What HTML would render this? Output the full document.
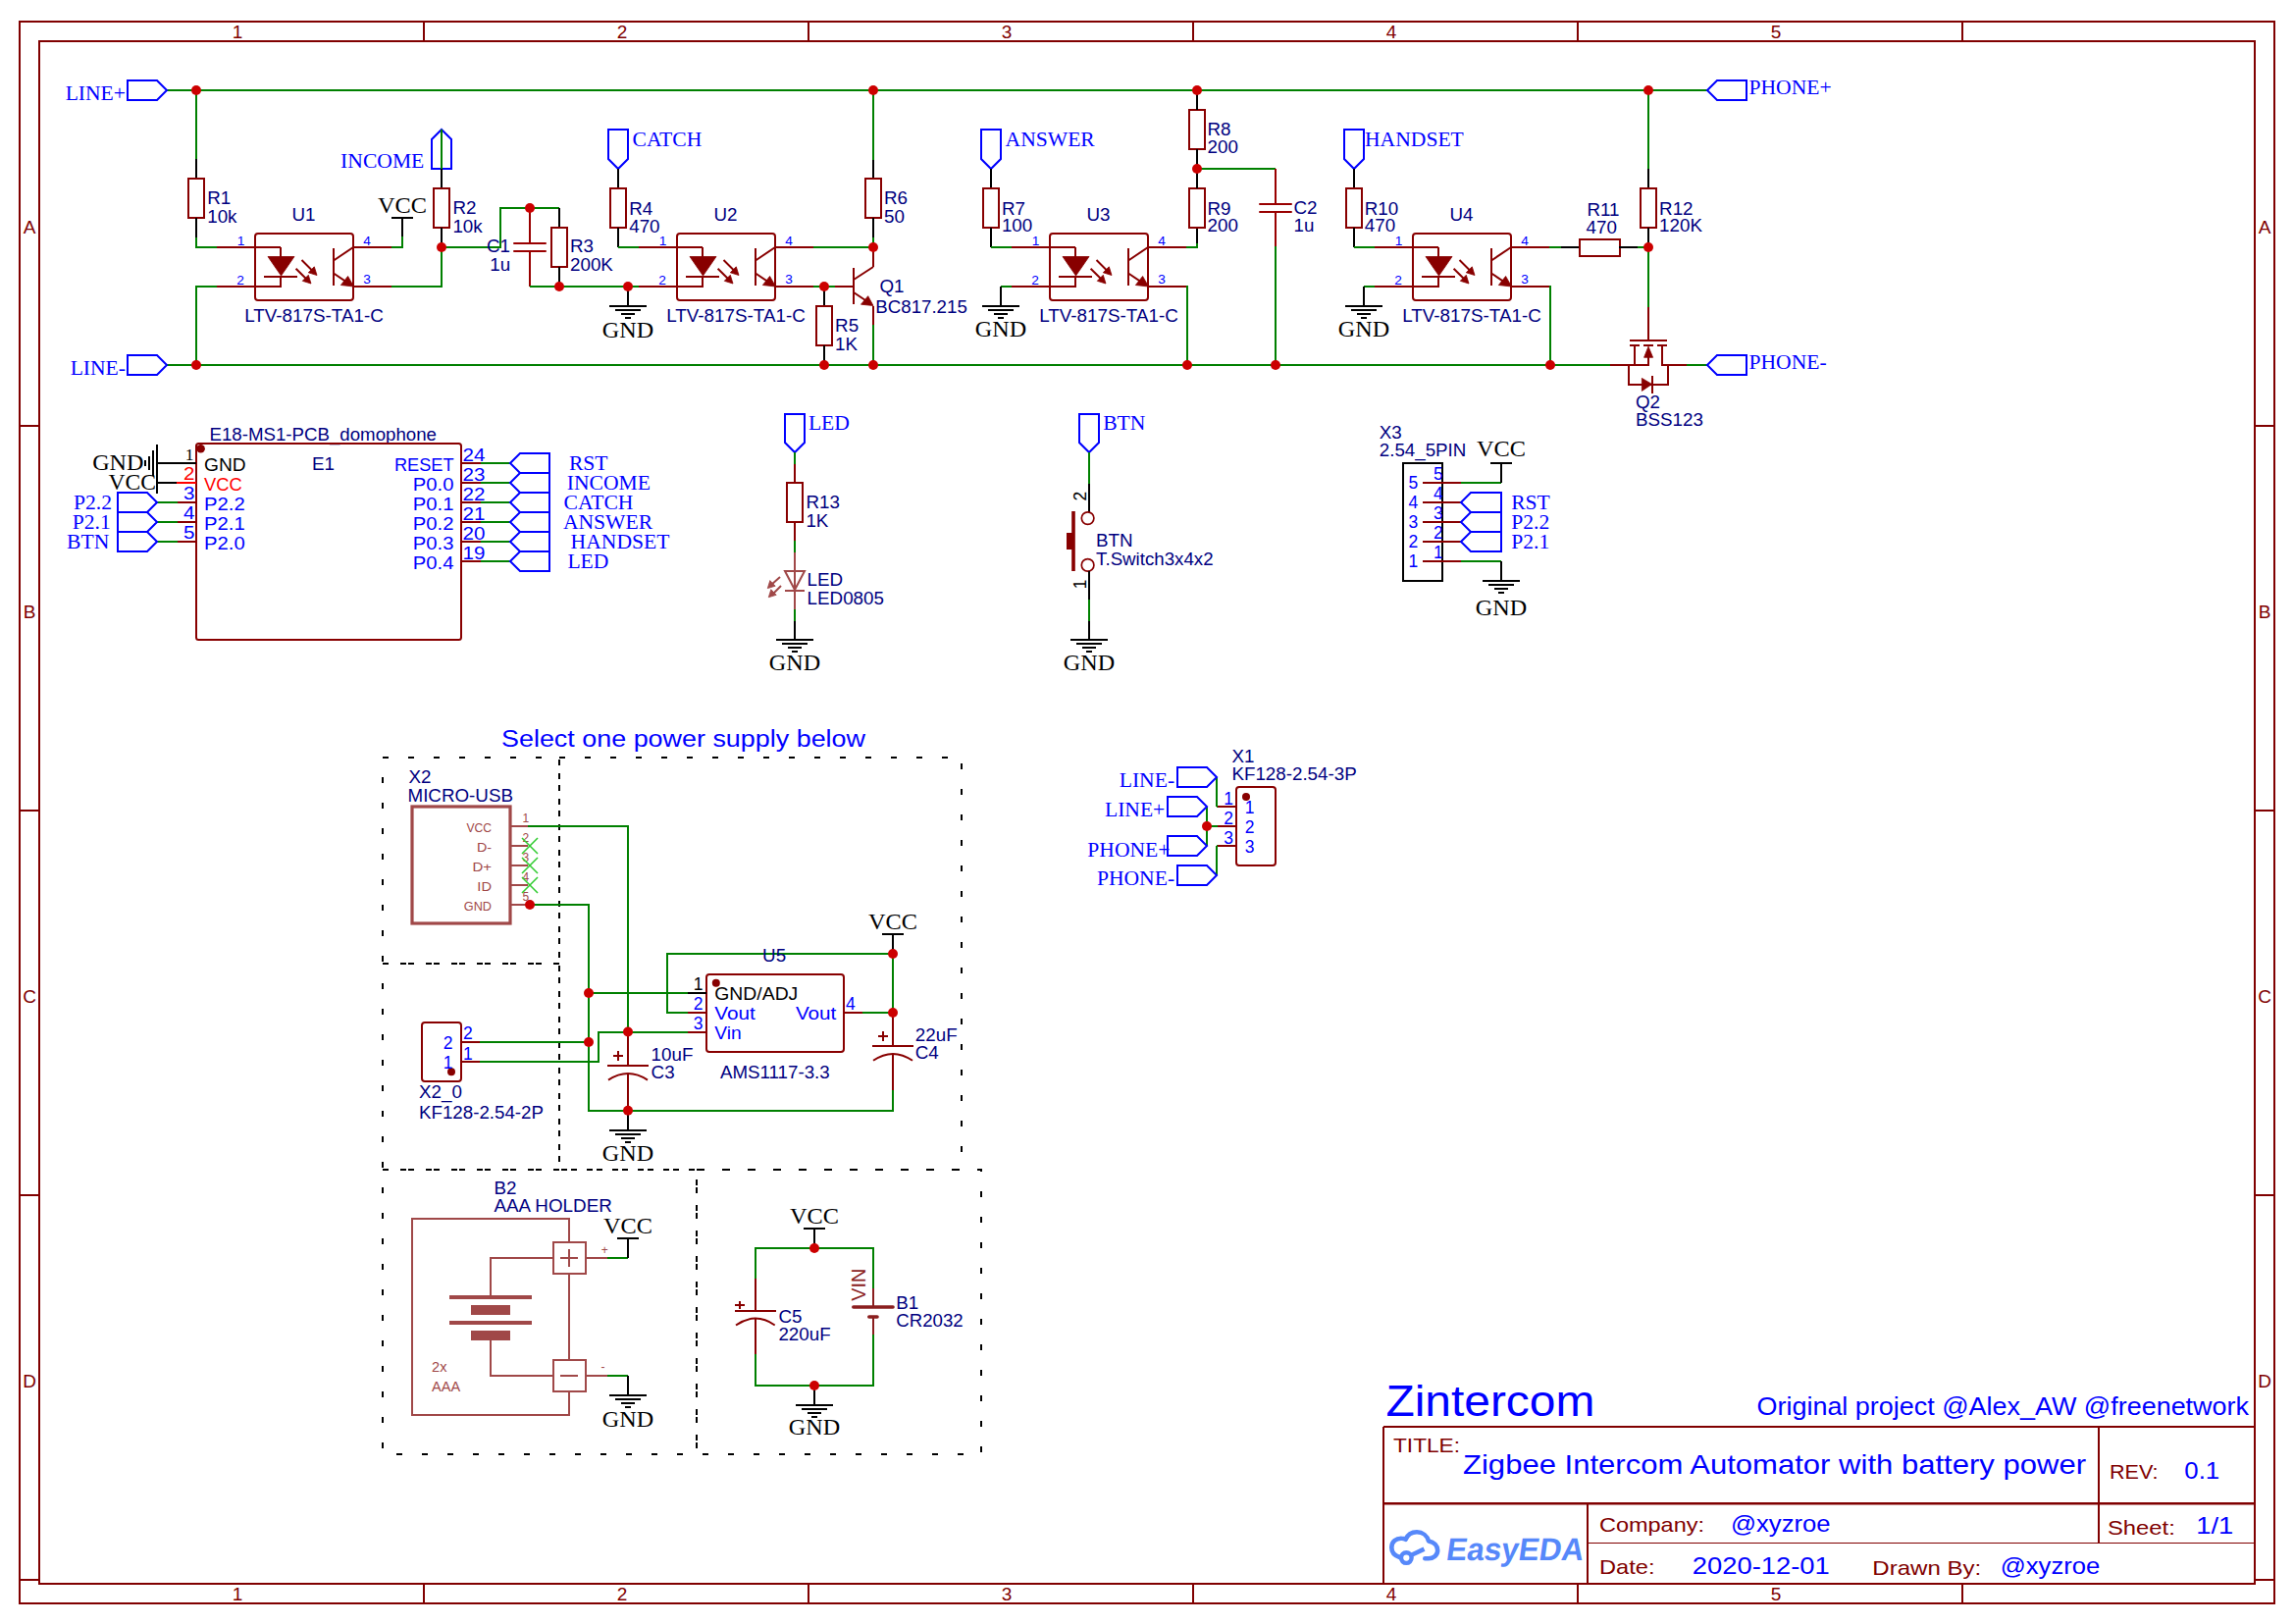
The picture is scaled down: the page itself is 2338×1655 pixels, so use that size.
<!DOCTYPE html>
<html><head><meta charset="utf-8"><title>Zintercom schematic</title>
<style>html,body{margin:0;padding:0;background:#fff;}svg{display:block;}</style></head>
<body><svg width="2338" height="1655" viewBox="0 0 2338 1655" shape-rendering="geometricPrecision">
<rect x="0" y="0" width="2338" height="1655" fill="#FFFFFF"/>
<rect x="20" y="22" width="2298" height="1612" stroke="#800000" stroke-width="2" fill="none"/>
<rect x="40" y="42" width="2258" height="1572" stroke="#800000" stroke-width="2" fill="none"/>
<line x1="432" y1="22" x2="432" y2="42" stroke="#800000" stroke-width="2"/>
<line x1="432" y1="1614" x2="432" y2="1634" stroke="#800000" stroke-width="2"/>
<line x1="824" y1="22" x2="824" y2="42" stroke="#800000" stroke-width="2"/>
<line x1="824" y1="1614" x2="824" y2="1634" stroke="#800000" stroke-width="2"/>
<line x1="1216" y1="22" x2="1216" y2="42" stroke="#800000" stroke-width="2"/>
<line x1="1216" y1="1614" x2="1216" y2="1634" stroke="#800000" stroke-width="2"/>
<line x1="1608" y1="22" x2="1608" y2="42" stroke="#800000" stroke-width="2"/>
<line x1="1608" y1="1614" x2="1608" y2="1634" stroke="#800000" stroke-width="2"/>
<line x1="2000" y1="22" x2="2000" y2="42" stroke="#800000" stroke-width="2"/>
<line x1="2000" y1="1614" x2="2000" y2="1634" stroke="#800000" stroke-width="2"/>
<line x1="20" y1="434" x2="40" y2="434" stroke="#800000" stroke-width="2"/>
<line x1="2298" y1="434" x2="2318" y2="434" stroke="#800000" stroke-width="2"/>
<line x1="20" y1="826" x2="40" y2="826" stroke="#800000" stroke-width="2"/>
<line x1="2298" y1="826" x2="2318" y2="826" stroke="#800000" stroke-width="2"/>
<line x1="20" y1="1218" x2="40" y2="1218" stroke="#800000" stroke-width="2"/>
<line x1="2298" y1="1218" x2="2318" y2="1218" stroke="#800000" stroke-width="2"/>
<line x1="20" y1="1610" x2="40" y2="1610" stroke="#800000" stroke-width="2"/>
<line x1="2298" y1="1610" x2="2318" y2="1610" stroke="#800000" stroke-width="2"/>
<text x="242" y="38.7" font-family="'Liberation Sans', sans-serif" font-size="19" fill="#800000" text-anchor="middle">1</text>
<text x="242" y="1631" font-family="'Liberation Sans', sans-serif" font-size="19" fill="#800000" text-anchor="middle">1</text>
<text x="634" y="38.7" font-family="'Liberation Sans', sans-serif" font-size="19" fill="#800000" text-anchor="middle">2</text>
<text x="634" y="1631" font-family="'Liberation Sans', sans-serif" font-size="19" fill="#800000" text-anchor="middle">2</text>
<text x="1026" y="38.7" font-family="'Liberation Sans', sans-serif" font-size="19" fill="#800000" text-anchor="middle">3</text>
<text x="1026" y="1631" font-family="'Liberation Sans', sans-serif" font-size="19" fill="#800000" text-anchor="middle">3</text>
<text x="1418" y="38.7" font-family="'Liberation Sans', sans-serif" font-size="19" fill="#800000" text-anchor="middle">4</text>
<text x="1418" y="1631" font-family="'Liberation Sans', sans-serif" font-size="19" fill="#800000" text-anchor="middle">4</text>
<text x="1810" y="38.7" font-family="'Liberation Sans', sans-serif" font-size="19" fill="#800000" text-anchor="middle">5</text>
<text x="1810" y="1631" font-family="'Liberation Sans', sans-serif" font-size="19" fill="#800000" text-anchor="middle">5</text>
<text x="30" y="237.7" font-family="'Liberation Sans', sans-serif" font-size="19" fill="#800000" text-anchor="middle">A</text>
<text x="2308" y="237.7" font-family="'Liberation Sans', sans-serif" font-size="19" fill="#800000" text-anchor="middle">A</text>
<text x="30" y="629.7" font-family="'Liberation Sans', sans-serif" font-size="19" fill="#800000" text-anchor="middle">B</text>
<text x="2308" y="629.7" font-family="'Liberation Sans', sans-serif" font-size="19" fill="#800000" text-anchor="middle">B</text>
<text x="30" y="1021.7" font-family="'Liberation Sans', sans-serif" font-size="19" fill="#800000" text-anchor="middle">C</text>
<text x="2308" y="1021.7" font-family="'Liberation Sans', sans-serif" font-size="19" fill="#800000" text-anchor="middle">C</text>
<text x="30" y="1413.7" font-family="'Liberation Sans', sans-serif" font-size="19" fill="#800000" text-anchor="middle">D</text>
<text x="2308" y="1413.7" font-family="'Liberation Sans', sans-serif" font-size="19" fill="#800000" text-anchor="middle">D</text>
<line x1="170" y1="92" x2="1740" y2="92" stroke="#008000" stroke-width="2"/>
<line x1="170" y1="372" x2="1641" y2="372" stroke="#008000" stroke-width="2"/>
<line x1="1719" y1="372" x2="1740" y2="372" stroke="#008000" stroke-width="2"/>
<polygon points="130,82 160,82 170,92 160,102 130,102" stroke="#0000FF" stroke-width="2" fill="none"/>
<text x="128" y="101.5" font-family="'Liberation Serif', serif" font-size="21.6" fill="#0000FF" text-anchor="end">LINE+</text>
<polygon points="130,362 160,362 170,372 160,382 130,382" stroke="#0000FF" stroke-width="2" fill="none"/>
<text x="128" y="381.9" font-family="'Liberation Serif', serif" font-size="21.6" fill="#0000FF" text-anchor="end">LINE-</text>
<polygon points="1740,92 1750,82 1780,82 1780,102 1750,102" stroke="#0000FF" stroke-width="2" fill="none"/>
<text x="1782.5" y="95.6" font-family="'Liberation Serif', serif" font-size="21.6" fill="#0000FF">PHONE+</text>
<polygon points="1740,372 1750,362 1780,362 1780,382 1750,382" stroke="#0000FF" stroke-width="2" fill="none"/>
<text x="1782.5" y="375.6" font-family="'Liberation Serif', serif" font-size="21.6" fill="#0000FF">PHONE-</text>
<line x1="200" y1="92" x2="200" y2="162" stroke="#008000" stroke-width="2"/>
<line x1="200" y1="162" x2="200" y2="182" stroke="#000000" stroke-width="2"/>
<rect x="192" y="182" width="16" height="40" stroke="#880000" stroke-width="2" fill="none"/>
<line x1="200" y1="222" x2="200" y2="242" stroke="#000000" stroke-width="2"/>
<polyline points="200,242 200,252 221,252" stroke="#008000" stroke-width="2" fill="none"/>
<text x="211.2" y="207.6" font-family="'Liberation Sans', sans-serif" font-size="18.8" fill="#000080">R1</text>
<text x="211.2" y="226.6" font-family="'Liberation Sans', sans-serif" font-size="18.8" fill="#000080">10k</text>
<polyline points="221,292 200,292 200,372" stroke="#008000" stroke-width="2" fill="none"/>
<rect x="260" y="238" width="100" height="68" rx="3" stroke="#880000" stroke-width="2" fill="none"/>
<line x1="221" y1="252" x2="286" y2="252" stroke="#880000" stroke-width="2"/>
<line x1="286" y1="252" x2="286" y2="262" stroke="#880000" stroke-width="2"/>
<polygon points="273,261.5 300,261.5 286.5,281" fill="#880000" stroke="#880000" stroke-width="0.8" stroke-linejoin="round"/>
<line x1="269" y1="282" x2="303" y2="282" stroke="#880000" stroke-width="2"/>
<line x1="286" y1="282" x2="286" y2="292" stroke="#880000" stroke-width="2"/>
<line x1="221" y1="292" x2="287" y2="292" stroke="#880000" stroke-width="2"/>
<line x1="307.5" y1="265" x2="320" y2="277.5" stroke="#880000" stroke-width="2"/>
<polygon points="323,280.5 314.3,277.8 320.3,271.8" fill="#880000" stroke="#880000" stroke-width="0.8" stroke-linejoin="round"/>
<line x1="301.6" y1="273.7" x2="314" y2="286" stroke="#880000" stroke-width="2"/>
<polygon points="317,289 308.3,286.3 314.3,280.3" fill="#880000" stroke="#880000" stroke-width="0.8" stroke-linejoin="round"/>
<line x1="340" y1="253" x2="340" y2="291" stroke="#880000" stroke-width="2"/>
<line x1="340" y1="265.5" x2="360" y2="252" stroke="#880000" stroke-width="2"/>
<line x1="340" y1="278.5" x2="355" y2="288.6" stroke="#880000" stroke-width="2"/>
<polygon points="360.5,292 347.4,290.5 354.6,281.5" fill="#880000" stroke="#880000" stroke-width="0.8" stroke-linejoin="round"/>
<line x1="360" y1="252" x2="399" y2="252" stroke="#880000" stroke-width="2"/>
<line x1="360" y1="292" x2="399" y2="292" stroke="#880000" stroke-width="2"/>
<text x="241.7" y="249.5" font-family="'Liberation Sans', sans-serif" font-size="13.7" fill="#0000FF">1</text>
<text x="241.2" y="289.6" font-family="'Liberation Sans', sans-serif" font-size="13.7" fill="#0000FF">2</text>
<text x="370.3" y="249.5" font-family="'Liberation Sans', sans-serif" font-size="13.7" fill="#0000FF">4</text>
<text x="370.3" y="289.4" font-family="'Liberation Sans', sans-serif" font-size="13.7" fill="#0000FF">3</text>
<text x="309.5" y="224.6" font-family="'Liberation Sans', sans-serif" font-size="18.8" fill="#000080" text-anchor="middle">U1</text>
<text x="320" y="327.9" font-family="'Liberation Sans', sans-serif" font-size="18.8" fill="#000080" text-anchor="middle" textLength="141.6" lengthAdjust="spacingAndGlyphs">LTV-817S-TA1-C</text>
<polyline points="399,252 410,252 410,241" stroke="#008000" stroke-width="2" fill="none"/>
<line x1="410" y1="241" x2="410" y2="222" stroke="#000000" stroke-width="2"/>
<line x1="399" y1="222" x2="421" y2="222" stroke="#000000" stroke-width="2"/>
<text x="410" y="217.4" font-family="'Liberation Serif', serif" font-size="24" fill="#000000" text-anchor="middle" textLength="50" lengthAdjust="spacingAndGlyphs">VCC</text>
<polyline points="399,292 450,292 450,252" stroke="#008000" stroke-width="2" fill="none"/>
<polygon points="450,132 460,142 460,172 440,172 440,142" stroke="#0000FF" stroke-width="2" fill="none"/>
<line x1="450" y1="132" x2="450" y2="172" stroke="#008000" stroke-width="2"/>
<text x="432.3" y="171" font-family="'Liberation Serif', serif" font-size="21.6" fill="#0000FF" text-anchor="end">INCOME</text>
<line x1="450" y1="172" x2="450" y2="192" stroke="#000000" stroke-width="2"/>
<rect x="442" y="192" width="16" height="40" stroke="#880000" stroke-width="2" fill="none"/>
<line x1="450" y1="232" x2="450" y2="247" stroke="#000000" stroke-width="2"/>
<line x1="450" y1="247" x2="450" y2="252" stroke="#008000" stroke-width="2"/>
<text x="461.4" y="218" font-family="'Liberation Sans', sans-serif" font-size="18.8" fill="#000080">R2</text>
<text x="461.4" y="236.5" font-family="'Liberation Sans', sans-serif" font-size="18.8" fill="#000080">10k</text>
<polyline points="450,252 510,252 510,212 570,212" stroke="#008000" stroke-width="2" fill="none"/>
<line x1="540" y1="212" x2="540" y2="248" stroke="#990000" stroke-width="2"/>
<line x1="524" y1="248" x2="556" y2="248" stroke="#990000" stroke-width="2" stroke-linecap="round"/>
<line x1="524" y1="256" x2="556" y2="256" stroke="#990000" stroke-width="2" stroke-linecap="round"/>
<line x1="540" y1="256" x2="540" y2="292" stroke="#990000" stroke-width="2"/>
<text x="496" y="257" font-family="'Liberation Sans', sans-serif" font-size="18.8" fill="#000080">C1</text>
<text x="499.3" y="275.5" font-family="'Liberation Sans', sans-serif" font-size="18.8" fill="#000080">1u</text>
<line x1="570" y1="212" x2="570" y2="232" stroke="#000000" stroke-width="2"/>
<rect x="562" y="232" width="16" height="40" stroke="#880000" stroke-width="2" fill="none"/>
<line x1="570" y1="272" x2="570" y2="292" stroke="#000000" stroke-width="2"/>
<text x="581" y="257.2" font-family="'Liberation Sans', sans-serif" font-size="18.8" fill="#000080">R3</text>
<text x="581" y="275.5" font-family="'Liberation Sans', sans-serif" font-size="18.8" fill="#000080">200K</text>
<line x1="540" y1="292" x2="651" y2="292" stroke="#008000" stroke-width="2"/>
<line x1="640" y1="292" x2="640" y2="312" stroke="#000000" stroke-width="2"/>
<line x1="621" y1="312" x2="659" y2="312" stroke="#000000" stroke-width="2"/>
<line x1="627" y1="316" x2="653" y2="316" stroke="#000000" stroke-width="2"/>
<line x1="633" y1="320" x2="647" y2="320" stroke="#000000" stroke-width="2"/>
<line x1="637" y1="324" x2="643" y2="324" stroke="#000000" stroke-width="2"/>
<text x="640" y="343.5" font-family="'Liberation Serif', serif" font-size="24" fill="#000000" text-anchor="middle" textLength="52.3" lengthAdjust="spacingAndGlyphs">GND</text>
<polygon points="620,132 640,132 640,162 630,172 620,162" stroke="#0000FF" stroke-width="2" fill="none"/>
<text x="644.5" y="148.9" font-family="'Liberation Serif', serif" font-size="21.6" fill="#0000FF">CATCH</text>
<line x1="630" y1="172" x2="630" y2="192" stroke="#000000" stroke-width="2"/>
<rect x="622" y="192" width="16" height="40" stroke="#880000" stroke-width="2" fill="none"/>
<line x1="630" y1="232" x2="630" y2="252" stroke="#000000" stroke-width="2"/>
<line x1="630" y1="252" x2="651" y2="252" stroke="#008000" stroke-width="2"/>
<text x="641.2" y="218.6" font-family="'Liberation Sans', sans-serif" font-size="18.8" fill="#000080">R4</text>
<text x="641.2" y="236.5" font-family="'Liberation Sans', sans-serif" font-size="18.8" fill="#000080">470</text>
<rect x="690" y="238" width="100" height="68" rx="3" stroke="#880000" stroke-width="2" fill="none"/>
<line x1="651" y1="252" x2="716" y2="252" stroke="#880000" stroke-width="2"/>
<line x1="716" y1="252" x2="716" y2="262" stroke="#880000" stroke-width="2"/>
<polygon points="703,261.5 730,261.5 716.5,281" fill="#880000" stroke="#880000" stroke-width="0.8" stroke-linejoin="round"/>
<line x1="699" y1="282" x2="733" y2="282" stroke="#880000" stroke-width="2"/>
<line x1="716" y1="282" x2="716" y2="292" stroke="#880000" stroke-width="2"/>
<line x1="651" y1="292" x2="717" y2="292" stroke="#880000" stroke-width="2"/>
<line x1="737.5" y1="265" x2="750" y2="277.5" stroke="#880000" stroke-width="2"/>
<polygon points="753,280.5 744.3,277.8 750.3,271.8" fill="#880000" stroke="#880000" stroke-width="0.8" stroke-linejoin="round"/>
<line x1="731.6" y1="273.7" x2="744" y2="286" stroke="#880000" stroke-width="2"/>
<polygon points="747,289 738.3,286.3 744.3,280.3" fill="#880000" stroke="#880000" stroke-width="0.8" stroke-linejoin="round"/>
<line x1="770" y1="253" x2="770" y2="291" stroke="#880000" stroke-width="2"/>
<line x1="770" y1="265.5" x2="790" y2="252" stroke="#880000" stroke-width="2"/>
<line x1="770" y1="278.5" x2="785" y2="288.6" stroke="#880000" stroke-width="2"/>
<polygon points="790.5,292 777.4,290.5 784.6,281.5" fill="#880000" stroke="#880000" stroke-width="0.8" stroke-linejoin="round"/>
<line x1="790" y1="252" x2="829" y2="252" stroke="#880000" stroke-width="2"/>
<line x1="790" y1="292" x2="829" y2="292" stroke="#880000" stroke-width="2"/>
<text x="671.7" y="249.5" font-family="'Liberation Sans', sans-serif" font-size="13.7" fill="#0000FF">1</text>
<text x="671.2" y="289.6" font-family="'Liberation Sans', sans-serif" font-size="13.7" fill="#0000FF">2</text>
<text x="800.3" y="249.5" font-family="'Liberation Sans', sans-serif" font-size="13.7" fill="#0000FF">4</text>
<text x="800.3" y="289.4" font-family="'Liberation Sans', sans-serif" font-size="13.7" fill="#0000FF">3</text>
<text x="739.5" y="224.6" font-family="'Liberation Sans', sans-serif" font-size="18.8" fill="#000080" text-anchor="middle">U2</text>
<text x="750" y="327.9" font-family="'Liberation Sans', sans-serif" font-size="18.8" fill="#000080" text-anchor="middle" textLength="141.6" lengthAdjust="spacingAndGlyphs">LTV-817S-TA1-C</text>
<line x1="829" y1="252" x2="890" y2="252" stroke="#008000" stroke-width="2"/>
<line x1="829" y1="292" x2="851" y2="292" stroke="#008000" stroke-width="2"/>
<line x1="851" y1="292" x2="870" y2="292" stroke="#880000" stroke-width="2"/>
<line x1="840" y1="292" x2="840" y2="312" stroke="#000000" stroke-width="2"/>
<rect x="832" y="312" width="16" height="40" stroke="#880000" stroke-width="2" fill="none"/>
<line x1="840" y1="352" x2="840" y2="372" stroke="#000000" stroke-width="2"/>
<text x="851.1" y="338.3" font-family="'Liberation Sans', sans-serif" font-size="18.8" fill="#000080">R5</text>
<text x="851.1" y="356.7" font-family="'Liberation Sans', sans-serif" font-size="18.8" fill="#000080">1K</text>
<line x1="890" y1="92" x2="890" y2="163" stroke="#008000" stroke-width="2"/>
<line x1="890" y1="163" x2="890" y2="182" stroke="#000000" stroke-width="2"/>
<rect x="882" y="182" width="16" height="40" stroke="#880000" stroke-width="2" fill="none"/>
<line x1="890" y1="222" x2="890" y2="242" stroke="#000000" stroke-width="2"/>
<line x1="890" y1="242" x2="890" y2="252" stroke="#008000" stroke-width="2"/>
<text x="901" y="207.6" font-family="'Liberation Sans', sans-serif" font-size="18.8" fill="#000080">R6</text>
<text x="901" y="226.6" font-family="'Liberation Sans', sans-serif" font-size="18.8" fill="#000080">50</text>
<line x1="870" y1="273" x2="870" y2="310" stroke="#880000" stroke-width="2"/>
<line x1="870" y1="285" x2="890" y2="272" stroke="#880000" stroke-width="2"/>
<line x1="890" y1="272" x2="890" y2="252" stroke="#880000" stroke-width="2"/>
<line x1="870" y1="298" x2="885" y2="308" stroke="#880000" stroke-width="2"/>
<polygon points="890,311.5 877.5,310.2 884.7,301.7" fill="#880000" stroke="#880000" stroke-width="0.8" stroke-linejoin="round"/>
<line x1="890" y1="312" x2="890" y2="331" stroke="#880000" stroke-width="2"/>
<line x1="890" y1="331" x2="890" y2="372" stroke="#008000" stroke-width="2"/>
<text x="896.5" y="297.8" font-family="'Liberation Sans', sans-serif" font-size="18.8" fill="#000080">Q1</text>
<text x="892.3" y="319" font-family="'Liberation Sans', sans-serif" font-size="18.8" fill="#000080" textLength="93.5" lengthAdjust="spacingAndGlyphs">BC817.215</text>
<polygon points="1000,132 1020,132 1020,162 1010,172 1000,162" stroke="#0000FF" stroke-width="2" fill="none"/>
<text x="1024.6" y="148.9" font-family="'Liberation Serif', serif" font-size="21.6" fill="#0000FF">ANSWER</text>
<line x1="1010" y1="172" x2="1010" y2="192" stroke="#000000" stroke-width="2"/>
<rect x="1002" y="192" width="16" height="40" stroke="#880000" stroke-width="2" fill="none"/>
<line x1="1010" y1="232" x2="1010" y2="252" stroke="#000000" stroke-width="2"/>
<line x1="1010" y1="252" x2="1031" y2="252" stroke="#008000" stroke-width="2"/>
<text x="1020.9" y="218.6" font-family="'Liberation Sans', sans-serif" font-size="18.8" fill="#000080">R7</text>
<text x="1020.9" y="236" font-family="'Liberation Sans', sans-serif" font-size="18.8" fill="#000080">100</text>
<rect x="1070" y="238" width="100" height="68" rx="3" stroke="#880000" stroke-width="2" fill="none"/>
<line x1="1031" y1="252" x2="1096" y2="252" stroke="#880000" stroke-width="2"/>
<line x1="1096" y1="252" x2="1096" y2="262" stroke="#880000" stroke-width="2"/>
<polygon points="1083,261.5 1110,261.5 1096.5,281" fill="#880000" stroke="#880000" stroke-width="0.8" stroke-linejoin="round"/>
<line x1="1079" y1="282" x2="1113" y2="282" stroke="#880000" stroke-width="2"/>
<line x1="1096" y1="282" x2="1096" y2="292" stroke="#880000" stroke-width="2"/>
<line x1="1031" y1="292" x2="1097" y2="292" stroke="#880000" stroke-width="2"/>
<line x1="1117.5" y1="265" x2="1130" y2="277.5" stroke="#880000" stroke-width="2"/>
<polygon points="1133,280.5 1124.3,277.8 1130.3,271.8" fill="#880000" stroke="#880000" stroke-width="0.8" stroke-linejoin="round"/>
<line x1="1111.6" y1="273.7" x2="1124" y2="286" stroke="#880000" stroke-width="2"/>
<polygon points="1127,289 1118.3,286.3 1124.3,280.3" fill="#880000" stroke="#880000" stroke-width="0.8" stroke-linejoin="round"/>
<line x1="1150" y1="253" x2="1150" y2="291" stroke="#880000" stroke-width="2"/>
<line x1="1150" y1="265.5" x2="1170" y2="252" stroke="#880000" stroke-width="2"/>
<line x1="1150" y1="278.5" x2="1165" y2="288.6" stroke="#880000" stroke-width="2"/>
<polygon points="1170.5,292 1157.4,290.5 1164.6,281.5" fill="#880000" stroke="#880000" stroke-width="0.8" stroke-linejoin="round"/>
<line x1="1170" y1="252" x2="1209" y2="252" stroke="#880000" stroke-width="2"/>
<line x1="1170" y1="292" x2="1209" y2="292" stroke="#880000" stroke-width="2"/>
<text x="1051.7" y="249.5" font-family="'Liberation Sans', sans-serif" font-size="13.7" fill="#0000FF">1</text>
<text x="1051.2" y="289.6" font-family="'Liberation Sans', sans-serif" font-size="13.7" fill="#0000FF">2</text>
<text x="1180.3" y="249.5" font-family="'Liberation Sans', sans-serif" font-size="13.7" fill="#0000FF">4</text>
<text x="1180.3" y="289.4" font-family="'Liberation Sans', sans-serif" font-size="13.7" fill="#0000FF">3</text>
<text x="1119.5" y="224.6" font-family="'Liberation Sans', sans-serif" font-size="18.8" fill="#000080" text-anchor="middle">U3</text>
<text x="1130" y="327.9" font-family="'Liberation Sans', sans-serif" font-size="18.8" fill="#000080" text-anchor="middle" textLength="141.6" lengthAdjust="spacingAndGlyphs">LTV-817S-TA1-C</text>
<line x1="1031" y1="292" x2="1020" y2="292" stroke="#008000" stroke-width="2"/>
<line x1="1020" y1="292" x2="1020" y2="312" stroke="#000000" stroke-width="2"/>
<line x1="1001" y1="312" x2="1039" y2="312" stroke="#000000" stroke-width="2"/>
<line x1="1007" y1="316" x2="1033" y2="316" stroke="#000000" stroke-width="2"/>
<line x1="1013" y1="320" x2="1027" y2="320" stroke="#000000" stroke-width="2"/>
<line x1="1017" y1="324" x2="1023" y2="324" stroke="#000000" stroke-width="2"/>
<text x="1020" y="342.6" font-family="'Liberation Serif', serif" font-size="24" fill="#000000" text-anchor="middle" textLength="52.3" lengthAdjust="spacingAndGlyphs">GND</text>
<polyline points="1209,252 1220,252 1220,248" stroke="#008000" stroke-width="2" fill="none"/>
<line x1="1220" y1="248" x2="1220" y2="232" stroke="#000000" stroke-width="2"/>
<rect x="1212" y="192" width="16" height="40" stroke="#880000" stroke-width="2" fill="none"/>
<line x1="1220" y1="192" x2="1220" y2="172" stroke="#000000" stroke-width="2"/>
<rect x="1212" y="112" width="16" height="40" stroke="#880000" stroke-width="2" fill="none"/>
<line x1="1220" y1="152" x2="1220" y2="172" stroke="#000000" stroke-width="2"/>
<line x1="1220" y1="92" x2="1220" y2="112" stroke="#000000" stroke-width="2"/>
<text x="1230.5" y="137.5" font-family="'Liberation Sans', sans-serif" font-size="18.8" fill="#000080">R8</text>
<text x="1230.5" y="156.2" font-family="'Liberation Sans', sans-serif" font-size="18.8" fill="#000080">200</text>
<text x="1230.5" y="218.6" font-family="'Liberation Sans', sans-serif" font-size="18.8" fill="#000080">R9</text>
<text x="1230.5" y="236" font-family="'Liberation Sans', sans-serif" font-size="18.8" fill="#000080">200</text>
<polyline points="1220,172 1300,172" stroke="#008000" stroke-width="2" fill="none"/>
<line x1="1300" y1="172" x2="1300" y2="208" stroke="#990000" stroke-width="2"/>
<line x1="1284" y1="208" x2="1316" y2="208" stroke="#990000" stroke-width="2" stroke-linecap="round"/>
<line x1="1284" y1="216" x2="1316" y2="216" stroke="#990000" stroke-width="2" stroke-linecap="round"/>
<line x1="1300" y1="216" x2="1300" y2="251" stroke="#990000" stroke-width="2"/>
<line x1="1300" y1="251" x2="1300" y2="372" stroke="#008000" stroke-width="2"/>
<text x="1318.5" y="217.7" font-family="'Liberation Sans', sans-serif" font-size="18.8" fill="#000080">C2</text>
<text x="1318.5" y="236" font-family="'Liberation Sans', sans-serif" font-size="18.8" fill="#000080">1u</text>
<polyline points="1209,292 1210,292 1210,372" stroke="#008000" stroke-width="2" fill="none"/>
<polygon points="1370,132 1390,132 1390,162 1380,172 1370,162" stroke="#0000FF" stroke-width="2" fill="none"/>
<text x="1391" y="148.9" font-family="'Liberation Serif', serif" font-size="21.6" fill="#0000FF">HANDSET</text>
<line x1="1380" y1="172" x2="1380" y2="192" stroke="#000000" stroke-width="2"/>
<rect x="1372" y="192" width="16" height="40" stroke="#880000" stroke-width="2" fill="none"/>
<line x1="1380" y1="232" x2="1380" y2="252" stroke="#000000" stroke-width="2"/>
<line x1="1380" y1="252" x2="1401" y2="252" stroke="#008000" stroke-width="2"/>
<text x="1390.8" y="218.6" font-family="'Liberation Sans', sans-serif" font-size="18.8" fill="#000080">R10</text>
<text x="1390.8" y="236" font-family="'Liberation Sans', sans-serif" font-size="18.8" fill="#000080">470</text>
<rect x="1440" y="238" width="100" height="68" rx="3" stroke="#880000" stroke-width="2" fill="none"/>
<line x1="1401" y1="252" x2="1466" y2="252" stroke="#880000" stroke-width="2"/>
<line x1="1466" y1="252" x2="1466" y2="262" stroke="#880000" stroke-width="2"/>
<polygon points="1453,261.5 1480,261.5 1466.5,281" fill="#880000" stroke="#880000" stroke-width="0.8" stroke-linejoin="round"/>
<line x1="1449" y1="282" x2="1483" y2="282" stroke="#880000" stroke-width="2"/>
<line x1="1466" y1="282" x2="1466" y2="292" stroke="#880000" stroke-width="2"/>
<line x1="1401" y1="292" x2="1467" y2="292" stroke="#880000" stroke-width="2"/>
<line x1="1487.5" y1="265" x2="1500" y2="277.5" stroke="#880000" stroke-width="2"/>
<polygon points="1503,280.5 1494.3,277.8 1500.3,271.8" fill="#880000" stroke="#880000" stroke-width="0.8" stroke-linejoin="round"/>
<line x1="1481.6" y1="273.7" x2="1494" y2="286" stroke="#880000" stroke-width="2"/>
<polygon points="1497,289 1488.3,286.3 1494.3,280.3" fill="#880000" stroke="#880000" stroke-width="0.8" stroke-linejoin="round"/>
<line x1="1520" y1="253" x2="1520" y2="291" stroke="#880000" stroke-width="2"/>
<line x1="1520" y1="265.5" x2="1540" y2="252" stroke="#880000" stroke-width="2"/>
<line x1="1520" y1="278.5" x2="1535" y2="288.6" stroke="#880000" stroke-width="2"/>
<polygon points="1540.5,292 1527.4,290.5 1534.6,281.5" fill="#880000" stroke="#880000" stroke-width="0.8" stroke-linejoin="round"/>
<line x1="1540" y1="252" x2="1579" y2="252" stroke="#880000" stroke-width="2"/>
<line x1="1540" y1="292" x2="1579" y2="292" stroke="#880000" stroke-width="2"/>
<text x="1421.7" y="249.5" font-family="'Liberation Sans', sans-serif" font-size="13.7" fill="#0000FF">1</text>
<text x="1421.2" y="289.6" font-family="'Liberation Sans', sans-serif" font-size="13.7" fill="#0000FF">2</text>
<text x="1550.3" y="249.5" font-family="'Liberation Sans', sans-serif" font-size="13.7" fill="#0000FF">4</text>
<text x="1550.3" y="289.4" font-family="'Liberation Sans', sans-serif" font-size="13.7" fill="#0000FF">3</text>
<text x="1489.5" y="224.6" font-family="'Liberation Sans', sans-serif" font-size="18.8" fill="#000080" text-anchor="middle">U4</text>
<text x="1500" y="327.9" font-family="'Liberation Sans', sans-serif" font-size="18.8" fill="#000080" text-anchor="middle" textLength="141.6" lengthAdjust="spacingAndGlyphs">LTV-817S-TA1-C</text>
<line x1="1401" y1="292" x2="1390" y2="292" stroke="#008000" stroke-width="2"/>
<line x1="1390" y1="292" x2="1390" y2="312" stroke="#000000" stroke-width="2"/>
<line x1="1371" y1="312" x2="1409" y2="312" stroke="#000000" stroke-width="2"/>
<line x1="1377" y1="316" x2="1403" y2="316" stroke="#000000" stroke-width="2"/>
<line x1="1383" y1="320" x2="1397" y2="320" stroke="#000000" stroke-width="2"/>
<line x1="1387" y1="324" x2="1393" y2="324" stroke="#000000" stroke-width="2"/>
<text x="1390" y="342.6" font-family="'Liberation Serif', serif" font-size="24" fill="#000000" text-anchor="middle" textLength="52.3" lengthAdjust="spacingAndGlyphs">GND</text>
<line x1="1579" y1="252" x2="1591" y2="252" stroke="#008000" stroke-width="2"/>
<line x1="1591" y1="252" x2="1610" y2="252" stroke="#000000" stroke-width="2"/>
<rect x="1610" y="244" width="41" height="17" stroke="#880000" stroke-width="2" fill="none"/>
<line x1="1650" y1="252" x2="1669" y2="252" stroke="#000000" stroke-width="2"/>
<line x1="1669" y1="252" x2="1680" y2="252" stroke="#008000" stroke-width="2"/>
<text x="1617.5" y="219.5" font-family="'Liberation Sans', sans-serif" font-size="18.8" fill="#000080">R11</text>
<text x="1616.5" y="237.8" font-family="'Liberation Sans', sans-serif" font-size="18.8" fill="#000080">470</text>
<line x1="1680" y1="92" x2="1680" y2="172" stroke="#008000" stroke-width="2"/>
<line x1="1680" y1="172" x2="1680" y2="192" stroke="#000000" stroke-width="2"/>
<rect x="1672" y="192" width="16" height="40" stroke="#880000" stroke-width="2" fill="none"/>
<line x1="1680" y1="232" x2="1680" y2="247" stroke="#000000" stroke-width="2"/>
<line x1="1680" y1="247" x2="1680" y2="313" stroke="#008000" stroke-width="2"/>
<text x="1691.1" y="218.6" font-family="'Liberation Sans', sans-serif" font-size="18.8" fill="#000080">R12</text>
<text x="1691.1" y="236" font-family="'Liberation Sans', sans-serif" font-size="18.8" fill="#000080">120K</text>
<polyline points="1579,292 1580,292 1580,372" stroke="#008000" stroke-width="2" fill="none"/>
<line x1="1680" y1="313" x2="1680" y2="347" stroke="#880000" stroke-width="2"/>
<line x1="1661" y1="347" x2="1699" y2="347" stroke="#880000" stroke-width="2"/>
<line x1="1661" y1="352" x2="1671" y2="352" stroke="#880000" stroke-width="2"/>
<line x1="1675" y1="352" x2="1685" y2="352" stroke="#880000" stroke-width="2"/>
<line x1="1689" y1="352" x2="1699" y2="352" stroke="#880000" stroke-width="2"/>
<line x1="1641" y1="372" x2="1681" y2="372" stroke="#880000" stroke-width="2"/>
<line x1="1666" y1="352" x2="1666" y2="372" stroke="#880000" stroke-width="2"/>
<line x1="1680" y1="364" x2="1680" y2="372" stroke="#880000" stroke-width="2"/>
<polygon points="1680,353.2 1675.6,364.3 1684.6,364.3" fill="#880000" stroke="#880000" stroke-width="0.8" stroke-linejoin="round"/>
<line x1="1694" y1="352" x2="1694" y2="372" stroke="#880000" stroke-width="2"/>
<line x1="1693" y1="372" x2="1719" y2="372" stroke="#880000" stroke-width="2"/>
<polyline points="1660,372 1660,392 1700,392 1700,372" stroke="#880000" stroke-width="2" fill="none"/>
<polygon points="1673.4,385.4 1673.4,398.4 1683.6,391.5" fill="#880000" stroke="#880000" stroke-width="0.8" stroke-linejoin="round"/>
<line x1="1684" y1="383" x2="1684" y2="401" stroke="#880000" stroke-width="2"/>
<text x="1667" y="416" font-family="'Liberation Sans', sans-serif" font-size="18.8" fill="#000080">Q2</text>
<text x="1667" y="434.1" font-family="'Liberation Sans', sans-serif" font-size="18.8" fill="#000080">BSS123</text>
<circle cx="200" cy="92" r="5" fill="#CC0000"/>
<circle cx="890" cy="92" r="5" fill="#CC0000"/>
<circle cx="1220" cy="92" r="5" fill="#CC0000"/>
<circle cx="1680" cy="92" r="5" fill="#CC0000"/>
<circle cx="200" cy="372" r="5" fill="#CC0000"/>
<circle cx="840" cy="372" r="5" fill="#CC0000"/>
<circle cx="890" cy="372" r="5" fill="#CC0000"/>
<circle cx="1210" cy="372" r="5" fill="#CC0000"/>
<circle cx="1300" cy="372" r="5" fill="#CC0000"/>
<circle cx="1580" cy="372" r="5" fill="#CC0000"/>
<circle cx="450" cy="252" r="5" fill="#CC0000"/>
<circle cx="540" cy="212" r="5" fill="#CC0000"/>
<circle cx="570" cy="292" r="5" fill="#CC0000"/>
<circle cx="640" cy="292" r="5" fill="#CC0000"/>
<circle cx="840" cy="292" r="5" fill="#CC0000"/>
<circle cx="890" cy="252" r="5" fill="#CC0000"/>
<circle cx="1220" cy="172" r="5" fill="#CC0000"/>
<circle cx="1680" cy="252" r="5" fill="#CC0000"/>
<text x="213.5" y="448.6" font-family="'Liberation Sans', sans-serif" font-size="18.8" fill="#000080" textLength="231.5" lengthAdjust="spacingAndGlyphs">E18-MS1-PCB_domophone</text>
<rect x="200" y="452" width="270" height="200" rx="2.5" stroke="#880000" stroke-width="2" fill="none"/>
<circle cx="204.6" cy="457.3" r="4.3" fill="#880000"/>
<text x="318.1" y="478.6" font-family="'Liberation Sans', sans-serif" font-size="18.8" fill="#000080">E1</text>
<line x1="161" y1="472" x2="200" y2="472" stroke="#000000" stroke-width="2"/>
<line x1="160" y1="453" x2="160" y2="503" stroke="#000000" stroke-width="2"/>
<line x1="156" y1="459" x2="156" y2="485" stroke="#000000" stroke-width="2"/>
<line x1="152" y1="465" x2="152" y2="479" stroke="#000000" stroke-width="2"/>
<line x1="148" y1="469" x2="148" y2="475" stroke="#000000" stroke-width="2"/>
<text x="146.5" y="479" font-family="'Liberation Serif', serif" font-size="24" fill="#000000" text-anchor="end" textLength="52.3" lengthAdjust="spacingAndGlyphs">GND</text>
<line x1="160" y1="492" x2="180" y2="492" stroke="#000000" stroke-width="2"/>
<line x1="180" y1="492" x2="200" y2="492" stroke="#FF0000" stroke-width="2"/>
<text x="159" y="499" font-family="'Liberation Serif', serif" font-size="24" fill="#000000" text-anchor="end" textLength="48.5" lengthAdjust="spacingAndGlyphs">VCC</text>
<text x="197.5" y="469.2" font-family="'Liberation Serif', serif" font-size="17.5" fill="#000000" text-anchor="end">1</text>
<text x="198.5" y="488.8" font-family="'Liberation Sans', sans-serif" font-size="18" fill="#FF0000" text-anchor="end" textLength="11.45" lengthAdjust="spacingAndGlyphs">2</text>
<line x1="181" y1="512" x2="200" y2="512" stroke="#880000" stroke-width="2"/>
<line x1="160" y1="512" x2="181" y2="512" stroke="#008000" stroke-width="2"/>
<polygon points="120,502 150,502 160,512 150,522 120,522" stroke="#0000FF" stroke-width="2" fill="none"/>
<text x="198.5" y="509.2" font-family="'Liberation Sans', sans-serif" font-size="18" fill="#0000FF" text-anchor="end" textLength="11.45" lengthAdjust="spacingAndGlyphs">3</text>
<text x="208" y="519.5" font-family="'Liberation Sans', sans-serif" font-size="18.6" fill="#0000FF" textLength="41.65" lengthAdjust="spacingAndGlyphs">P2.2</text>
<line x1="181" y1="532" x2="200" y2="532" stroke="#880000" stroke-width="2"/>
<line x1="160" y1="532" x2="181" y2="532" stroke="#008000" stroke-width="2"/>
<polygon points="120,522 150,522 160,532 150,542 120,542" stroke="#0000FF" stroke-width="2" fill="none"/>
<text x="198.5" y="529.2" font-family="'Liberation Sans', sans-serif" font-size="18" fill="#0000FF" text-anchor="end" textLength="11.45" lengthAdjust="spacingAndGlyphs">4</text>
<text x="208" y="539.5" font-family="'Liberation Sans', sans-serif" font-size="18.6" fill="#0000FF" textLength="41.65" lengthAdjust="spacingAndGlyphs">P2.1</text>
<line x1="181" y1="552" x2="200" y2="552" stroke="#880000" stroke-width="2"/>
<line x1="160" y1="552" x2="181" y2="552" stroke="#008000" stroke-width="2"/>
<polygon points="120,542 150,542 160,552 150,562 120,562" stroke="#0000FF" stroke-width="2" fill="none"/>
<text x="198.5" y="549.2" font-family="'Liberation Sans', sans-serif" font-size="18" fill="#0000FF" text-anchor="end" textLength="11.45" lengthAdjust="spacingAndGlyphs">5</text>
<text x="208" y="559.5" font-family="'Liberation Sans', sans-serif" font-size="18.6" fill="#0000FF" textLength="41.65" lengthAdjust="spacingAndGlyphs">P2.0</text>
<text x="114" y="518.9" font-family="'Liberation Serif', serif" font-size="21.6" fill="#0000FF" text-anchor="end">P2.2</text>
<text x="112.7" y="538.8" font-family="'Liberation Serif', serif" font-size="21.6" fill="#0000FF" text-anchor="end">P2.1</text>
<text x="111.3" y="558.8" font-family="'Liberation Serif', serif" font-size="21.6" fill="#0000FF" text-anchor="end">BTN</text>
<text x="208" y="479.7" font-family="'Liberation Sans', sans-serif" font-size="18.6" fill="#000000" textLength="42.67" lengthAdjust="spacingAndGlyphs">GND</text>
<text x="208" y="499.6" font-family="'Liberation Sans', sans-serif" font-size="18.6" fill="#FF0000" textLength="38.69" lengthAdjust="spacingAndGlyphs">VCC</text>
<line x1="470" y1="472" x2="490" y2="472" stroke="#880000" stroke-width="2"/>
<line x1="490" y1="472" x2="520" y2="472" stroke="#008000" stroke-width="2"/>
<polygon points="520,472 530,462 560,462 560,482 530,482" stroke="#0000FF" stroke-width="2" fill="none"/>
<text x="471.5" y="469.7" font-family="'Liberation Sans', sans-serif" font-size="18" fill="#0000FF" textLength="22.9" lengthAdjust="spacingAndGlyphs">24</text>
<text x="462.5" y="479.5" font-family="'Liberation Sans', sans-serif" font-size="18.6" fill="#0000FF" text-anchor="end" textLength="60.62" lengthAdjust="spacingAndGlyphs">RESET</text>
<text x="579.9" y="479" font-family="'Liberation Serif', serif" font-size="21.6" fill="#0000FF">RST</text>
<line x1="470" y1="492" x2="490" y2="492" stroke="#880000" stroke-width="2"/>
<line x1="490" y1="492" x2="520" y2="492" stroke="#008000" stroke-width="2"/>
<polygon points="520,492 530,482 560,482 560,502 530,502" stroke="#0000FF" stroke-width="2" fill="none"/>
<text x="471.5" y="489.7" font-family="'Liberation Sans', sans-serif" font-size="18" fill="#0000FF" textLength="22.9" lengthAdjust="spacingAndGlyphs">23</text>
<text x="462.5" y="499.5" font-family="'Liberation Sans', sans-serif" font-size="18.6" fill="#0000FF" text-anchor="end" textLength="41.65" lengthAdjust="spacingAndGlyphs">P0.0</text>
<text x="577.7" y="499" font-family="'Liberation Serif', serif" font-size="21.6" fill="#0000FF">INCOME</text>
<line x1="470" y1="512" x2="490" y2="512" stroke="#880000" stroke-width="2"/>
<line x1="490" y1="512" x2="520" y2="512" stroke="#008000" stroke-width="2"/>
<polygon points="520,512 530,502 560,502 560,522 530,522" stroke="#0000FF" stroke-width="2" fill="none"/>
<text x="471.5" y="509.7" font-family="'Liberation Sans', sans-serif" font-size="18" fill="#0000FF" textLength="22.9" lengthAdjust="spacingAndGlyphs">22</text>
<text x="462.5" y="519.5" font-family="'Liberation Sans', sans-serif" font-size="18.6" fill="#0000FF" text-anchor="end" textLength="41.65" lengthAdjust="spacingAndGlyphs">P0.1</text>
<text x="574.6" y="519" font-family="'Liberation Serif', serif" font-size="21.6" fill="#0000FF">CATCH</text>
<line x1="470" y1="532" x2="490" y2="532" stroke="#880000" stroke-width="2"/>
<line x1="490" y1="532" x2="520" y2="532" stroke="#008000" stroke-width="2"/>
<polygon points="520,532 530,522 560,522 560,542 530,542" stroke="#0000FF" stroke-width="2" fill="none"/>
<text x="471.5" y="529.7" font-family="'Liberation Sans', sans-serif" font-size="18" fill="#0000FF" textLength="22.9" lengthAdjust="spacingAndGlyphs">21</text>
<text x="462.5" y="539.5" font-family="'Liberation Sans', sans-serif" font-size="18.6" fill="#0000FF" text-anchor="end" textLength="41.65" lengthAdjust="spacingAndGlyphs">P0.2</text>
<text x="573.9" y="539" font-family="'Liberation Serif', serif" font-size="21.6" fill="#0000FF">ANSWER</text>
<line x1="470" y1="552" x2="490" y2="552" stroke="#880000" stroke-width="2"/>
<line x1="490" y1="552" x2="520" y2="552" stroke="#008000" stroke-width="2"/>
<polygon points="520,552 530,542 560,542 560,562 530,562" stroke="#0000FF" stroke-width="2" fill="none"/>
<text x="471.5" y="549.7" font-family="'Liberation Sans', sans-serif" font-size="18" fill="#0000FF" textLength="22.9" lengthAdjust="spacingAndGlyphs">20</text>
<text x="462.5" y="559.5" font-family="'Liberation Sans', sans-serif" font-size="18.6" fill="#0000FF" text-anchor="end" textLength="41.65" lengthAdjust="spacingAndGlyphs">P0.3</text>
<text x="581.6" y="559" font-family="'Liberation Serif', serif" font-size="21.6" fill="#0000FF">HANDSET</text>
<line x1="470" y1="572" x2="490" y2="572" stroke="#880000" stroke-width="2"/>
<line x1="490" y1="572" x2="520" y2="572" stroke="#008000" stroke-width="2"/>
<polygon points="520,572 530,562 560,562 560,582 530,582" stroke="#0000FF" stroke-width="2" fill="none"/>
<text x="471.5" y="569.7" font-family="'Liberation Sans', sans-serif" font-size="18" fill="#0000FF" textLength="22.9" lengthAdjust="spacingAndGlyphs">19</text>
<text x="462.5" y="579.5" font-family="'Liberation Sans', sans-serif" font-size="18.6" fill="#0000FF" text-anchor="end" textLength="41.65" lengthAdjust="spacingAndGlyphs">P0.4</text>
<text x="578.4" y="579" font-family="'Liberation Serif', serif" font-size="21.6" fill="#0000FF">LED</text>
<polygon points="800,422 820,422 820,451 810,461 800,451" stroke="#0000FF" stroke-width="2" fill="none"/>
<text x="823.9" y="438.4" font-family="'Liberation Serif', serif" font-size="21.6" fill="#0000FF">LED</text>
<line x1="810" y1="461" x2="810" y2="473" stroke="#008000" stroke-width="2"/>
<line x1="810" y1="473" x2="810" y2="492" stroke="#880000" stroke-width="2"/>
<rect x="802" y="492" width="16" height="40" stroke="#880000" stroke-width="2" fill="none"/>
<line x1="810" y1="532" x2="810" y2="551" stroke="#880000" stroke-width="2"/>
<line x1="810" y1="551" x2="810" y2="563" stroke="#008000" stroke-width="2"/>
<line x1="810" y1="563" x2="810" y2="621" stroke="#A04848" stroke-width="2"/>
<polygon points="800,582 820,582 810,601" stroke="#A04848" stroke-width="2" fill="none"/>
<line x1="800" y1="602" x2="820" y2="602" stroke="#A04848" stroke-width="2"/>
<line x1="810" y1="621" x2="810" y2="633" stroke="#008000" stroke-width="2"/>
<line x1="810" y1="633" x2="810" y2="652" stroke="#000000" stroke-width="2"/>
<line x1="791" y1="652" x2="829" y2="652" stroke="#000000" stroke-width="2"/>
<line x1="797" y1="656" x2="823" y2="656" stroke="#000000" stroke-width="2"/>
<line x1="803" y1="660" x2="817" y2="660" stroke="#000000" stroke-width="2"/>
<line x1="807" y1="664" x2="813" y2="664" stroke="#000000" stroke-width="2"/>
<text x="810" y="683.3" font-family="'Liberation Serif', serif" font-size="24" fill="#000000" text-anchor="middle" textLength="52.3" lengthAdjust="spacingAndGlyphs">GND</text>
<line x1="795" y1="588" x2="786" y2="596" stroke="#A04848" stroke-width="2"/>
<polygon points="782.3,599.6 784.8,591.6 790.2,597.2" fill="#A04848" stroke="#A04848" stroke-width="0.8" stroke-linejoin="round"/>
<line x1="796" y1="597" x2="787" y2="606" stroke="#A04848" stroke-width="2"/>
<polygon points="783.3,608.7 785.8,600.7 791.2,606.3" fill="#A04848" stroke="#A04848" stroke-width="0.8" stroke-linejoin="round"/>
<text x="821.4" y="517.8" font-family="'Liberation Sans', sans-serif" font-size="18.8" fill="#000080">R13</text>
<text x="821.4" y="536.7" font-family="'Liberation Sans', sans-serif" font-size="18.8" fill="#000080">1K</text>
<text x="822.6" y="597" font-family="'Liberation Sans', sans-serif" font-size="18.8" fill="#000080">LED</text>
<text x="822.6" y="616" font-family="'Liberation Sans', sans-serif" font-size="18.8" fill="#000080">LED0805</text>
<polygon points="1100,422 1120,422 1120,451 1110,461 1100,451" stroke="#0000FF" stroke-width="2" fill="none"/>
<text x="1124.2" y="438.4" font-family="'Liberation Serif', serif" font-size="21.6" fill="#0000FF">BTN</text>
<line x1="1110" y1="461" x2="1110" y2="493" stroke="#008000" stroke-width="2"/>
<line x1="1110" y1="493" x2="1110" y2="522" stroke="#000000" stroke-width="2"/>
<circle cx="1108.6" cy="528.1" r="6.3" stroke="#880000" stroke-width="1.7" fill="none"/>
<circle cx="1108.6" cy="575.9" r="6.3" stroke="#880000" stroke-width="1.7" fill="none"/>
<line x1="1110" y1="582" x2="1110" y2="611" stroke="#008000" stroke-width="2"/>
<line x1="1110" y1="582" x2="1110" y2="611" stroke="#000000" stroke-width="2"/>
<line x1="1110" y1="611" x2="1110" y2="633" stroke="#008000" stroke-width="2"/>
<line x1="1110" y1="633" x2="1110" y2="652" stroke="#000000" stroke-width="2"/>
<line x1="1091" y1="652" x2="1129" y2="652" stroke="#000000" stroke-width="2"/>
<line x1="1097" y1="656" x2="1123" y2="656" stroke="#000000" stroke-width="2"/>
<line x1="1103" y1="660" x2="1117" y2="660" stroke="#000000" stroke-width="2"/>
<line x1="1107" y1="664" x2="1113" y2="664" stroke="#000000" stroke-width="2"/>
<text x="1110" y="683.3" font-family="'Liberation Serif', serif" font-size="24" fill="#000000" text-anchor="middle" textLength="52.3" lengthAdjust="spacingAndGlyphs">GND</text>
<line x1="1094" y1="521" x2="1094" y2="582" stroke="#880000" stroke-width="3.6"/>
<rect x="1087" y="543" width="8" height="17" stroke="#880000" stroke-width="0" fill="#880000"/>
<text transform="translate(1107,505.7) rotate(-90)" font-family="'Liberation Sans', sans-serif" font-size="17.5" fill="#000000" text-anchor="middle">2</text>
<text transform="translate(1107,595.3) rotate(-90)" font-family="'Liberation Sans', sans-serif" font-size="17.5" fill="#000000" text-anchor="middle">1</text>
<text x="1117.1" y="557.4" font-family="'Liberation Sans', sans-serif" font-size="18.8" fill="#000080">BTN</text>
<text x="1117.1" y="576.4" font-family="'Liberation Sans', sans-serif" font-size="18.8" fill="#000080" textLength="119.5" lengthAdjust="spacingAndGlyphs">T.Switch3x4x2</text>
<rect x="1430" y="472" width="40" height="120" stroke="#000000" stroke-width="2" fill="none"/>
<line x1="1450" y1="492" x2="1489" y2="492" stroke="#880000" stroke-width="2"/>
<text x="1435.4" y="497.5" font-family="'Liberation Sans', sans-serif" font-size="17.5" fill="#0000FF">5</text>
<text x="1461" y="489.2" font-family="'Liberation Sans', sans-serif" font-size="17.5" fill="#0000FF">5</text>
<line x1="1450" y1="512" x2="1489" y2="512" stroke="#880000" stroke-width="2"/>
<text x="1435.4" y="517.5" font-family="'Liberation Sans', sans-serif" font-size="17.5" fill="#0000FF">4</text>
<text x="1461" y="509.2" font-family="'Liberation Sans', sans-serif" font-size="17.5" fill="#0000FF">4</text>
<line x1="1450" y1="532" x2="1489" y2="532" stroke="#880000" stroke-width="2"/>
<text x="1435.4" y="537.5" font-family="'Liberation Sans', sans-serif" font-size="17.5" fill="#0000FF">3</text>
<text x="1461" y="529.2" font-family="'Liberation Sans', sans-serif" font-size="17.5" fill="#0000FF">3</text>
<line x1="1450" y1="552" x2="1489" y2="552" stroke="#880000" stroke-width="2"/>
<text x="1435.4" y="557.5" font-family="'Liberation Sans', sans-serif" font-size="17.5" fill="#0000FF">2</text>
<text x="1461" y="549.2" font-family="'Liberation Sans', sans-serif" font-size="17.5" fill="#0000FF">2</text>
<line x1="1450" y1="572" x2="1489" y2="572" stroke="#880000" stroke-width="2"/>
<text x="1435.4" y="577.5" font-family="'Liberation Sans', sans-serif" font-size="17.5" fill="#0000FF">1</text>
<text x="1461" y="569.2" font-family="'Liberation Sans', sans-serif" font-size="17.5" fill="#0000FF">1</text>
<line x1="1489" y1="492" x2="1530" y2="492" stroke="#008000" stroke-width="2"/>
<line x1="1530" y1="492" x2="1530" y2="472" stroke="#000000" stroke-width="2"/>
<line x1="1519" y1="472" x2="1541" y2="472" stroke="#000000" stroke-width="2"/>
<text x="1530" y="465.4" font-family="'Liberation Serif', serif" font-size="24" fill="#000000" text-anchor="middle" textLength="50" lengthAdjust="spacingAndGlyphs">VCC</text>
<line x1="1489" y1="572" x2="1530" y2="572" stroke="#008000" stroke-width="2"/>
<line x1="1530" y1="572" x2="1530" y2="592" stroke="#000000" stroke-width="2"/>
<line x1="1511" y1="592" x2="1549" y2="592" stroke="#000000" stroke-width="2"/>
<line x1="1517" y1="596" x2="1543" y2="596" stroke="#000000" stroke-width="2"/>
<line x1="1523" y1="600" x2="1537" y2="600" stroke="#000000" stroke-width="2"/>
<line x1="1527" y1="604" x2="1533" y2="604" stroke="#000000" stroke-width="2"/>
<text x="1530" y="626.6" font-family="'Liberation Serif', serif" font-size="24" fill="#000000" text-anchor="middle" textLength="52.3" lengthAdjust="spacingAndGlyphs">GND</text>
<polygon points="1489,512 1499,502 1530,502 1530,522 1499,522" stroke="#0000FF" stroke-width="2" fill="none"/>
<polygon points="1489,532 1499,522 1530,522 1530,542 1499,542" stroke="#0000FF" stroke-width="2" fill="none"/>
<polygon points="1489,552 1499,542 1530,542 1530,562 1499,562" stroke="#0000FF" stroke-width="2" fill="none"/>
<text x="1540.2" y="518.6" font-family="'Liberation Serif', serif" font-size="21.6" fill="#0000FF">RST</text>
<text x="1540.2" y="538.6" font-family="'Liberation Serif', serif" font-size="21.6" fill="#0000FF">P2.2</text>
<text x="1540.2" y="558.5" font-family="'Liberation Serif', serif" font-size="21.6" fill="#0000FF">P2.1</text>
<text x="1405.8" y="447.4" font-family="'Liberation Sans', sans-serif" font-size="18.8" fill="#000080">X3</text>
<text x="1405.8" y="465.4" font-family="'Liberation Sans', sans-serif" font-size="18.8" fill="#000080" textLength="88.5" lengthAdjust="spacingAndGlyphs">2.54_5PIN</text>
<rect x="390" y="772" width="180" height="210" fill="none" stroke="#000" stroke-width="2" stroke-dasharray="6 20"/>
<rect x="390" y="982" width="180" height="210" fill="none" stroke="#000" stroke-width="2" stroke-dasharray="6 20"/>
<rect x="570" y="772" width="410" height="420" fill="none" stroke="#000" stroke-width="2" stroke-dasharray="6 20"/>
<rect x="390" y="1192" width="320" height="290" fill="none" stroke="#000" stroke-width="2" stroke-dasharray="6 20"/>
<rect x="710" y="1192" width="290" height="290" fill="none" stroke="#000" stroke-width="2" stroke-dasharray="6 20"/>
<text x="511" y="761.2" font-family="'Liberation Sans', sans-serif" font-size="23" fill="#0000FF" textLength="371" lengthAdjust="spacingAndGlyphs">Select one power supply below</text>
<rect x="420" y="822" width="100" height="119" stroke="#A04848" stroke-width="3.2" fill="none"/>
<line x1="520" y1="842" x2="538" y2="842" stroke="#A04848" stroke-width="2"/>
<text x="501" y="847.7" font-family="'Liberation Sans', sans-serif" font-size="12.3" fill="#A04848" text-anchor="end" textLength="25.58" lengthAdjust="spacingAndGlyphs">VCC</text>
<text x="532.5" y="837.6" font-family="'Liberation Sans', sans-serif" font-size="12" fill="#A04848">1</text>
<line x1="520" y1="862" x2="538" y2="862" stroke="#A04848" stroke-width="2"/>
<text x="501" y="867.7" font-family="'Liberation Sans', sans-serif" font-size="12.3" fill="#A04848" text-anchor="end" textLength="15.08" lengthAdjust="spacingAndGlyphs">D-</text>
<text x="532.5" y="857.6" font-family="'Liberation Sans', sans-serif" font-size="12" fill="#A04848">2</text>
<line x1="520" y1="882" x2="538" y2="882" stroke="#A04848" stroke-width="2"/>
<text x="501" y="887.7" font-family="'Liberation Sans', sans-serif" font-size="12.3" fill="#A04848" text-anchor="end" textLength="19.54" lengthAdjust="spacingAndGlyphs">D+</text>
<text x="532.5" y="877.6" font-family="'Liberation Sans', sans-serif" font-size="12" fill="#A04848">3</text>
<line x1="520" y1="902" x2="538" y2="902" stroke="#A04848" stroke-width="2"/>
<text x="501" y="907.7" font-family="'Liberation Sans', sans-serif" font-size="12.3" fill="#A04848" text-anchor="end" textLength="14.66" lengthAdjust="spacingAndGlyphs">ID</text>
<text x="532.5" y="897.6" font-family="'Liberation Sans', sans-serif" font-size="12" fill="#A04848">4</text>
<line x1="520" y1="922" x2="538" y2="922" stroke="#A04848" stroke-width="2"/>
<text x="501" y="927.7" font-family="'Liberation Sans', sans-serif" font-size="12.3" fill="#A04848" text-anchor="end" textLength="28.22" lengthAdjust="spacingAndGlyphs">GND</text>
<text x="532.5" y="917.6" font-family="'Liberation Sans', sans-serif" font-size="12" fill="#A04848">5</text>
<line x1="532" y1="854" x2="548" y2="870" stroke="#33CC33" stroke-width="1.6"/>
<line x1="532" y1="870" x2="548" y2="854" stroke="#33CC33" stroke-width="1.6"/>
<line x1="532" y1="874" x2="548" y2="890" stroke="#33CC33" stroke-width="1.6"/>
<line x1="532" y1="890" x2="548" y2="874" stroke="#33CC33" stroke-width="1.6"/>
<line x1="532" y1="894" x2="548" y2="910" stroke="#33CC33" stroke-width="1.6"/>
<line x1="532" y1="910" x2="548" y2="894" stroke="#33CC33" stroke-width="1.6"/>
<text x="416.4" y="797.6" font-family="'Liberation Sans', sans-serif" font-size="18.8" fill="#000080">X2</text>
<text x="415.5" y="817.2" font-family="'Liberation Sans', sans-serif" font-size="18.8" fill="#000080" textLength="107.5" lengthAdjust="spacingAndGlyphs">MICRO-USB</text>
<polyline points="538,842 640,842 640,1052" stroke="#008000" stroke-width="2" fill="none"/>
<polyline points="540,922 600,922 600,1132 910,1132 910,1111" stroke="#008000" stroke-width="2" fill="none"/>
<rect x="430" y="1042" width="40" height="60" rx="3" stroke="#880000" stroke-width="2" fill="none"/>
<circle cx="460" cy="1092.2" r="4" fill="#880000"/>
<line x1="470" y1="1062" x2="489" y2="1062" stroke="#880000" stroke-width="2"/>
<line x1="470" y1="1082" x2="489" y2="1082" stroke="#880000" stroke-width="2"/>
<line x1="489" y1="1062" x2="600" y2="1062" stroke="#008000" stroke-width="2"/>
<polyline points="489,1082 610,1082 610,1052 701,1052" stroke="#008000" stroke-width="2" fill="none"/>
<text x="472.1" y="1059.2" font-family="'Liberation Sans', sans-serif" font-size="17.5" fill="#0000FF">2</text>
<text x="472.1" y="1079.6" font-family="'Liberation Sans', sans-serif" font-size="17.5" fill="#0000FF">1</text>
<text x="451.8" y="1069.4" font-family="'Liberation Sans', sans-serif" font-size="17.5" fill="#0000FF">2</text>
<text x="451.8" y="1089.4" font-family="'Liberation Sans', sans-serif" font-size="17.5" fill="#0000FF">1</text>
<text x="427" y="1118.8" font-family="'Liberation Sans', sans-serif" font-size="18.8" fill="#000080">X2_0</text>
<text x="427" y="1139.6" font-family="'Liberation Sans', sans-serif" font-size="18.8" fill="#000080" textLength="127" lengthAdjust="spacingAndGlyphs">KF128-2.54-2P</text>
<rect x="720" y="993" width="140" height="79" rx="3" stroke="#880000" stroke-width="2" fill="none"/>
<circle cx="729.8" cy="1001.7" r="4" fill="#880000"/>
<line x1="600" y1="1012" x2="701" y2="1012" stroke="#008000" stroke-width="2"/>
<line x1="701" y1="1012" x2="720" y2="1012" stroke="#000000" stroke-width="2"/>
<polyline points="910,972 680,972 680,1032 701,1032" stroke="#008000" stroke-width="2" fill="none"/>
<line x1="701" y1="1032" x2="720" y2="1032" stroke="#880000" stroke-width="2"/>
<line x1="701" y1="1052" x2="720" y2="1052" stroke="#880000" stroke-width="2"/>
<line x1="860" y1="1032" x2="879" y2="1032" stroke="#880000" stroke-width="2"/>
<line x1="879" y1="1032" x2="910" y2="1032" stroke="#008000" stroke-width="2"/>
<line x1="910" y1="972" x2="910" y2="1032" stroke="#008000" stroke-width="2"/>
<line x1="910" y1="972" x2="910" y2="952" stroke="#000000" stroke-width="2"/>
<line x1="899" y1="952" x2="921" y2="952" stroke="#000000" stroke-width="2"/>
<text x="910" y="947.1" font-family="'Liberation Serif', serif" font-size="24" fill="#000000" text-anchor="middle" textLength="50" lengthAdjust="spacingAndGlyphs">VCC</text>
<text x="728.3" y="1019" font-family="'Liberation Sans', sans-serif" font-size="17.5" fill="#000000" textLength="85" lengthAdjust="spacingAndGlyphs">GND/ADJ</text>
<text x="728.3" y="1039.1" font-family="'Liberation Sans', sans-serif" font-size="17.5" fill="#0000FF" textLength="41.5" lengthAdjust="spacingAndGlyphs">Vout</text>
<text x="728.3" y="1058.9" font-family="'Liberation Sans', sans-serif" font-size="17.5" fill="#0000FF" textLength="27.5" lengthAdjust="spacingAndGlyphs">Vin</text>
<text x="852.4" y="1039.1" font-family="'Liberation Sans', sans-serif" font-size="17.5" fill="#0000FF" text-anchor="end" textLength="41.5" lengthAdjust="spacingAndGlyphs">Vout</text>
<text x="716.4" y="1009" font-family="'Liberation Sans', sans-serif" font-size="17.5" fill="#000000" text-anchor="end">1</text>
<text x="716.4" y="1029.2" font-family="'Liberation Sans', sans-serif" font-size="17.5" fill="#0000FF" text-anchor="end">2</text>
<text x="716.4" y="1049.3" font-family="'Liberation Sans', sans-serif" font-size="17.5" fill="#0000FF" text-anchor="end">3</text>
<text x="862" y="1029.2" font-family="'Liberation Sans', sans-serif" font-size="17.5" fill="#0000FF">4</text>
<text x="777.1" y="979.7" font-family="'Liberation Sans', sans-serif" font-size="18.8" fill="#000080">U5</text>
<text x="733.9" y="1098.9" font-family="'Liberation Sans', sans-serif" font-size="18.8" fill="#000080" textLength="111.8" lengthAdjust="spacingAndGlyphs">AMS1117-3.3</text>
<line x1="910" y1="1032" x2="910" y2="1066" stroke="#880000" stroke-width="2"/>
<line x1="889" y1="1066" x2="931" y2="1066" stroke="#880000" stroke-width="2"/>
<path d="M890,1080.8 Q910,1067 930,1080.8" stroke="#880000" stroke-width="2" fill="none"/>
<line x1="895" y1="1056" x2="905" y2="1056" stroke="#880000" stroke-width="2"/>
<line x1="900" y1="1051" x2="900" y2="1061" stroke="#880000" stroke-width="2"/>
<line x1="910" y1="1074" x2="910" y2="1111" stroke="#880000" stroke-width="2"/>
<text x="932.8" y="1061.2" font-family="'Liberation Sans', sans-serif" font-size="18.8" fill="#000080">22uF</text>
<text x="932.8" y="1079" font-family="'Liberation Sans', sans-serif" font-size="18.8" fill="#000080">C4</text>
<line x1="640" y1="1052" x2="640" y2="1086" stroke="#880000" stroke-width="2"/>
<line x1="619" y1="1086" x2="661" y2="1086" stroke="#880000" stroke-width="2"/>
<path d="M620,1100.6 Q640,1087.4 660,1100.6" stroke="#880000" stroke-width="2" fill="none"/>
<line x1="625" y1="1076" x2="635" y2="1076" stroke="#880000" stroke-width="2"/>
<line x1="630" y1="1071" x2="630" y2="1081" stroke="#880000" stroke-width="2"/>
<line x1="640" y1="1094" x2="640" y2="1132" stroke="#880000" stroke-width="2"/>
<text x="663.6" y="1081.2" font-family="'Liberation Sans', sans-serif" font-size="18.8" fill="#000080">10uF</text>
<text x="663.6" y="1099.1" font-family="'Liberation Sans', sans-serif" font-size="18.8" fill="#000080">C3</text>
<line x1="640" y1="1132" x2="640" y2="1152" stroke="#000000" stroke-width="2"/>
<line x1="621" y1="1152" x2="659" y2="1152" stroke="#000000" stroke-width="2"/>
<line x1="627" y1="1156" x2="653" y2="1156" stroke="#000000" stroke-width="2"/>
<line x1="633" y1="1160" x2="647" y2="1160" stroke="#000000" stroke-width="2"/>
<line x1="637" y1="1164" x2="643" y2="1164" stroke="#000000" stroke-width="2"/>
<text x="640" y="1183.4" font-family="'Liberation Serif', serif" font-size="24" fill="#000000" text-anchor="middle" textLength="52.3" lengthAdjust="spacingAndGlyphs">GND</text>
<circle cx="540" cy="922" r="5" fill="#CC0000"/>
<circle cx="600" cy="1012" r="5" fill="#CC0000"/>
<circle cx="600" cy="1062" r="5" fill="#CC0000"/>
<circle cx="640" cy="1051.5" r="5" fill="#CC0000"/>
<circle cx="640" cy="1131.7" r="5" fill="#CC0000"/>
<circle cx="910" cy="972" r="5" fill="#CC0000"/>
<circle cx="910" cy="1032" r="5" fill="#CC0000"/>
<polyline points="580,1266 580,1242 420,1242 420,1442 580,1442 580,1418" stroke="#A04848" stroke-width="2" fill="none"/>
<line x1="580" y1="1298" x2="580" y2="1386" stroke="#A04848" stroke-width="2"/>
<rect x="564" y="1266" width="33" height="32" stroke="#A04848" stroke-width="2" fill="none"/>
<rect x="564" y="1386" width="33" height="32" stroke="#A04848" stroke-width="2" fill="none"/>
<line x1="571" y1="1282" x2="589" y2="1282" stroke="#A04848" stroke-width="2"/>
<line x1="580" y1="1273" x2="580" y2="1291" stroke="#A04848" stroke-width="2"/>
<line x1="571" y1="1402" x2="589" y2="1402" stroke="#A04848" stroke-width="2"/>
<polyline points="564,1282 500,1282 500,1322" stroke="#A04848" stroke-width="2" fill="none"/>
<line x1="458" y1="1322" x2="542" y2="1322" stroke="#A04848" stroke-width="3.8"/>
<rect x="480" y="1330" width="40" height="10" stroke="#A04848" stroke-width="0" fill="#A04848"/>
<line x1="458" y1="1348" x2="542" y2="1348" stroke="#A04848" stroke-width="3.8"/>
<rect x="480" y="1356" width="40" height="10" stroke="#A04848" stroke-width="0" fill="#A04848"/>
<polyline points="500,1366 500,1402 564,1402" stroke="#A04848" stroke-width="2" fill="none"/>
<line x1="596" y1="1282" x2="619" y2="1282" stroke="#A04848" stroke-width="2"/>
<line x1="619" y1="1282" x2="640" y2="1282" stroke="#008000" stroke-width="2"/>
<line x1="640" y1="1282" x2="640" y2="1262" stroke="#000000" stroke-width="2"/>
<line x1="629" y1="1262" x2="651" y2="1262" stroke="#000000" stroke-width="2"/>
<text x="640" y="1257.3" font-family="'Liberation Serif', serif" font-size="24" fill="#000000" text-anchor="middle" textLength="50" lengthAdjust="spacingAndGlyphs">VCC</text>
<line x1="596" y1="1402" x2="619" y2="1402" stroke="#A04848" stroke-width="2"/>
<line x1="619" y1="1402" x2="640" y2="1402" stroke="#008000" stroke-width="2"/>
<line x1="640" y1="1402" x2="640" y2="1422" stroke="#000000" stroke-width="2"/>
<line x1="621" y1="1422" x2="659" y2="1422" stroke="#000000" stroke-width="2"/>
<line x1="627" y1="1426" x2="653" y2="1426" stroke="#000000" stroke-width="2"/>
<line x1="633" y1="1430" x2="647" y2="1430" stroke="#000000" stroke-width="2"/>
<line x1="637" y1="1434" x2="643" y2="1434" stroke="#000000" stroke-width="2"/>
<text x="640" y="1454" font-family="'Liberation Serif', serif" font-size="24" fill="#000000" text-anchor="middle" textLength="52.3" lengthAdjust="spacingAndGlyphs">GND</text>
<text x="616.3" y="1278" font-family="'Liberation Sans', sans-serif" font-size="12" fill="#A04848" text-anchor="middle">+</text>
<text x="614.4" y="1397" font-family="'Liberation Sans', sans-serif" font-size="12" fill="#A04848" text-anchor="middle">-</text>
<text x="440.1" y="1397.6" font-family="'Liberation Sans', sans-serif" font-size="14.5" fill="#A04848">2x</text>
<text x="440.1" y="1417.7" font-family="'Liberation Sans', sans-serif" font-size="14.5" fill="#A04848">AAA</text>
<text x="503.5" y="1217.2" font-family="'Liberation Sans', sans-serif" font-size="18.8" fill="#000080">B2</text>
<text x="503.5" y="1235.4" font-family="'Liberation Sans', sans-serif" font-size="18.8" fill="#000080" textLength="120.3" lengthAdjust="spacingAndGlyphs">AAA HOLDER</text>
<line x1="830" y1="1272" x2="830" y2="1252" stroke="#000000" stroke-width="2"/>
<line x1="819" y1="1252" x2="841" y2="1252" stroke="#000000" stroke-width="2"/>
<text x="830" y="1247.2" font-family="'Liberation Serif', serif" font-size="24" fill="#000000" text-anchor="middle" textLength="50" lengthAdjust="spacingAndGlyphs">VCC</text>
<polyline points="770,1303 770,1272 890,1272 890,1313" stroke="#008000" stroke-width="2" fill="none"/>
<polyline points="770,1380 770,1412 890,1412 890,1360" stroke="#008000" stroke-width="2" fill="none"/>
<line x1="770" y1="1303" x2="770" y2="1336" stroke="#880000" stroke-width="2"/>
<line x1="749" y1="1336" x2="791" y2="1336" stroke="#880000" stroke-width="2"/>
<path d="M750,1350.5 Q770,1336.7 789.7,1350.5" stroke="#880000" stroke-width="2" fill="none"/>
<line x1="770" y1="1344" x2="770" y2="1380" stroke="#880000" stroke-width="2"/>
<line x1="749" y1="1330" x2="759" y2="1330" stroke="#880000" stroke-width="2"/>
<line x1="754" y1="1326" x2="754" y2="1334" stroke="#880000" stroke-width="2"/>
<line x1="890" y1="1313" x2="890" y2="1332" stroke="#8A1E1E" stroke-width="2"/>
<line x1="869.8" y1="1332" x2="910" y2="1332" stroke="#8A1E1E" stroke-width="3.6" stroke-linecap="round"/>
<line x1="885.8" y1="1342" x2="894" y2="1342" stroke="#8A1E1E" stroke-width="3.6" stroke-linecap="round"/>
<line x1="890" y1="1342" x2="890" y2="1360" stroke="#8A1E1E" stroke-width="2"/>
<text transform="translate(882,1309.3) rotate(-90)" font-family="'Liberation Sans', sans-serif" font-size="19.5" fill="#8A1E1E" text-anchor="middle" textLength="33" lengthAdjust="spacingAndGlyphs">VIN</text>
<line x1="830" y1="1412" x2="830" y2="1432" stroke="#000000" stroke-width="2"/>
<line x1="811" y1="1432" x2="849" y2="1432" stroke="#000000" stroke-width="2"/>
<line x1="817" y1="1436" x2="843" y2="1436" stroke="#000000" stroke-width="2"/>
<line x1="823" y1="1440" x2="837" y2="1440" stroke="#000000" stroke-width="2"/>
<line x1="827" y1="1444" x2="833" y2="1444" stroke="#000000" stroke-width="2"/>
<text x="830" y="1462.2" font-family="'Liberation Serif', serif" font-size="24" fill="#000000" text-anchor="middle" textLength="52.3" lengthAdjust="spacingAndGlyphs">GND</text>
<circle cx="830" cy="1272" r="5" fill="#CC0000"/>
<circle cx="830" cy="1412" r="5" fill="#CC0000"/>
<text x="793.4" y="1348" font-family="'Liberation Sans', sans-serif" font-size="18.8" fill="#000080">C5</text>
<text x="793.4" y="1366.2" font-family="'Liberation Sans', sans-serif" font-size="18.8" fill="#000080">220uF</text>
<text x="913.3" y="1333.7" font-family="'Liberation Sans', sans-serif" font-size="18.8" fill="#000080">B1</text>
<text x="913.3" y="1352.4" font-family="'Liberation Sans', sans-serif" font-size="18.8" fill="#000080" textLength="68.3" lengthAdjust="spacingAndGlyphs">CR2032</text>
<rect x="1260" y="802" width="40" height="80" rx="3" stroke="#880000" stroke-width="2" fill="none"/>
<circle cx="1270" cy="812" r="4" fill="#880000"/>
<line x1="1241" y1="822" x2="1260" y2="822" stroke="#880000" stroke-width="2"/>
<text x="1257" y="819.5" font-family="'Liberation Sans', sans-serif" font-size="17.5" fill="#0000FF" text-anchor="end">1</text>
<text x="1268.7" y="829.3" font-family="'Liberation Sans', sans-serif" font-size="17.5" fill="#0000FF">1</text>
<line x1="1241" y1="842" x2="1260" y2="842" stroke="#880000" stroke-width="2"/>
<text x="1257" y="839.5" font-family="'Liberation Sans', sans-serif" font-size="17.5" fill="#0000FF" text-anchor="end">2</text>
<text x="1268.7" y="849.3" font-family="'Liberation Sans', sans-serif" font-size="17.5" fill="#0000FF">2</text>
<line x1="1241" y1="862" x2="1260" y2="862" stroke="#880000" stroke-width="2"/>
<text x="1257" y="859.5" font-family="'Liberation Sans', sans-serif" font-size="17.5" fill="#0000FF" text-anchor="end">3</text>
<text x="1268.7" y="869.3" font-family="'Liberation Sans', sans-serif" font-size="17.5" fill="#0000FF">3</text>
<line x1="1241" y1="822" x2="1240" y2="822" stroke="#008000" stroke-width="2"/>
<line x1="1240" y1="822" x2="1240" y2="792" stroke="#008000" stroke-width="2"/>
<line x1="1241" y1="842" x2="1230" y2="842" stroke="#008000" stroke-width="2"/>
<line x1="1230" y1="822" x2="1230" y2="862" stroke="#008000" stroke-width="2"/>
<line x1="1240" y1="862" x2="1240" y2="892" stroke="#008000" stroke-width="2"/>
<line x1="1240" y1="862" x2="1241" y2="862" stroke="#008000" stroke-width="2"/>
<circle cx="1230" cy="842" r="5" fill="#CC0000"/>
<polygon points="1200,782 1230,782 1240,792 1230,802 1200,802" stroke="#0000FF" stroke-width="2" fill="none"/>
<polygon points="1190,812 1220,812 1230,822 1220,832 1190,832" stroke="#0000FF" stroke-width="2" fill="none"/>
<polygon points="1190,852 1220,852 1230,862 1220,872 1190,872" stroke="#0000FF" stroke-width="2" fill="none"/>
<polygon points="1200,882 1230,882 1240,892 1230,902 1200,902" stroke="#0000FF" stroke-width="2" fill="none"/>
<text x="1197.1" y="801.8" font-family="'Liberation Serif', serif" font-size="21.6" fill="#0000FF" text-anchor="end">LINE-</text>
<text x="1187.3" y="831.7" font-family="'Liberation Serif', serif" font-size="21.6" fill="#0000FF" text-anchor="end">LINE+</text>
<text x="1192.5" y="872.5" font-family="'Liberation Serif', serif" font-size="21.6" fill="#0000FF" text-anchor="end">PHONE+</text>
<text x="1197.1" y="902.3" font-family="'Liberation Serif', serif" font-size="21.6" fill="#0000FF" text-anchor="end">PHONE-</text>
<text x="1255.4" y="777.3" font-family="'Liberation Sans', sans-serif" font-size="18.8" fill="#000080">X1</text>
<text x="1255.4" y="795.3" font-family="'Liberation Sans', sans-serif" font-size="18.8" fill="#000080" textLength="127.3" lengthAdjust="spacingAndGlyphs">KF128-2.54-3P</text>
<line x1="1410" y1="1454" x2="2298" y2="1454" stroke="#800000" stroke-width="2"/>
<line x1="1410" y1="1454" x2="1410" y2="1614" stroke="#800000" stroke-width="2"/>
<line x1="1410" y1="1532.3" x2="2298" y2="1532.3" stroke="#800000" stroke-width="2.6"/>
<line x1="2139" y1="1454" x2="2139" y2="1572" stroke="#800000" stroke-width="2"/>
<line x1="1618" y1="1532" x2="1618" y2="1614" stroke="#800000" stroke-width="2"/>
<line x1="1618" y1="1572.5" x2="2298" y2="1572.5" stroke="#800000" stroke-width="1"/>
<text x="1412.4" y="1442.5" font-family="'Liberation Sans', sans-serif" font-size="45" fill="#0000FF" textLength="213" lengthAdjust="spacingAndGlyphs">Zintercom</text>
<text x="1790.5" y="1442" font-family="'Liberation Sans', sans-serif" font-size="25.5" fill="#0000FF" textLength="501.5" lengthAdjust="spacingAndGlyphs">Original project @Alex_AW @freenetwork</text>
<text x="1420" y="1479.6" font-family="'Liberation Sans', sans-serif" font-size="21" fill="#800000" textLength="68" lengthAdjust="spacingAndGlyphs">TITLE:</text>
<text x="1491" y="1502" font-family="'Liberation Sans', sans-serif" font-size="28" fill="#0000FF" textLength="635" lengthAdjust="spacingAndGlyphs">Zigbee Intercom Automator with battery power</text>
<text x="2150" y="1507.3" font-family="'Liberation Sans', sans-serif" font-size="21" fill="#800000" textLength="49.6" lengthAdjust="spacingAndGlyphs">REV:</text>
<text x="2226.3" y="1506.7" font-family="'Liberation Sans', sans-serif" font-size="24" fill="#0000FF" textLength="35.9" lengthAdjust="spacingAndGlyphs">0.1</text>
<text x="1630" y="1561" font-family="'Liberation Sans', sans-serif" font-size="21" fill="#800000" textLength="107" lengthAdjust="spacingAndGlyphs">Company:</text>
<text x="1764" y="1561" font-family="'Liberation Sans', sans-serif" font-size="24.5" fill="#0000FF" textLength="101.5" lengthAdjust="spacingAndGlyphs">@xyzroe</text>
<text x="2148" y="1563.5" font-family="'Liberation Sans', sans-serif" font-size="21" fill="#800000" textLength="68.8" lengthAdjust="spacingAndGlyphs">Sheet:</text>
<text x="2238.2" y="1563" font-family="'Liberation Sans', sans-serif" font-size="24" fill="#0000FF" textLength="38" lengthAdjust="spacingAndGlyphs">1/1</text>
<text x="1630" y="1604.2" font-family="'Liberation Sans', sans-serif" font-size="21" fill="#800000" textLength="56.5" lengthAdjust="spacingAndGlyphs">Date:</text>
<text x="1724.8" y="1603.6" font-family="'Liberation Sans', sans-serif" font-size="24" fill="#0000FF" textLength="140" lengthAdjust="spacingAndGlyphs">2020-12-01</text>
<text x="1908.3" y="1604.6" font-family="'Liberation Sans', sans-serif" font-size="21" fill="#800000" textLength="111" lengthAdjust="spacingAndGlyphs">Drawn By:</text>
<text x="2038.8" y="1604.2" font-family="'Liberation Sans', sans-serif" font-size="24" fill="#0000FF" textLength="101.5" lengthAdjust="spacingAndGlyphs">@xyzroe</text>
<g stroke="#5688FA" stroke-width="4.6" fill="none" stroke-linecap="round" stroke-linejoin="round"><path d="M1426.5,1587 C1420.5,1585 1418.3,1581 1418.3,1577 C1418.3,1571 1423,1567.6 1428.5,1567.8 C1430.3,1567.8 1431.6,1568.2 1432.6,1568.8 C1434.6,1564 1439,1561.3 1444,1561.3 C1450,1561.3 1454.6,1565.3 1456,1570.4 C1461.6,1571.4 1465.2,1575.4 1465.2,1580 C1465.2,1585 1461,1588.2 1456,1588.2 L1452.3,1588.2"/></g>
<line x1="1439" y1="1584.5" x2="1451.5" y2="1578.6" stroke="#5688FA" stroke-width="4.6"/>
<circle cx="1433.3" cy="1587.6" r="5.3" fill="#fff" stroke="#5688FA" stroke-width="4.4"/>
<g transform="translate(1473,1590.3) skewX(-8)"><text x="0" y="0" font-family="'Liberation Sans', sans-serif" font-size="32.5" font-weight="bold" fill="#5688FA" textLength="140" lengthAdjust="spacingAndGlyphs">EasyEDA</text></g>
</svg></body></html>
